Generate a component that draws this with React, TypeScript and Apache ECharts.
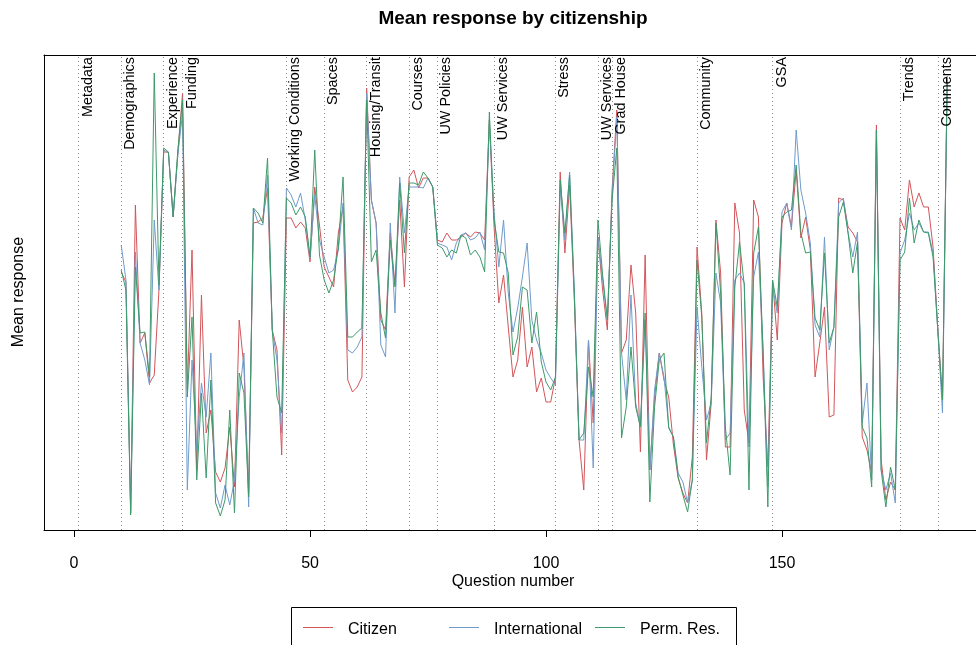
import React, { useEffect, useRef } from "react";
import * as echarts from "echarts";

// Mean response per question, questions 10..185
const firstQuestion = 10;

const citizen = [
  3.28, 3.18, 0.87, 3.95, 2.57, 2.67, 2.17, 2.25, 3.10, 4.48,
  4.48, 3.83, 4.47, 5.07, 2.10, 3.50, 1.30, 3.05, 1.67, 1.90,
  1.28, 1.18, 1.32, 1.73, 1.13, 2.80, 2.33, 1.07, 3.77, 3.78,
  3.82, 4.12, 2.70, 2.50, 1.45, 3.82, 3.82, 3.72, 3.78, 3.72,
  3.38, 4.13, 3.75, 3.33, 3.23, 3.13, 3.67, 3.93, 2.20, 2.08,
  2.13, 2.23, 5.12, 4.00, 3.77, 2.80, 2.70, 3.67, 3.15, 4.00,
  3.13, 4.23, 4.30, 4.12, 4.22, 4.22, 4.13, 3.60, 3.58, 3.67,
  3.60, 3.60, 3.63, 3.67, 3.63, 3.68, 3.67, 3.60, 4.80, 3.73,
  2.97, 3.25, 2.73, 2.23, 2.40, 2.93, 2.33, 2.53, 2.08, 2.22,
  1.98, 1.98, 2.23, 4.28, 3.47, 4.15, 3.00, 1.60, 1.10, 2.60,
  1.77, 3.63, 3.10, 2.70, 4.10, 4.90, 2.47, 2.60, 3.35, 2.87,
  1.48, 3.45, 1.30, 2.03, 2.47, 2.20, 2.03, 1.55, 1.22, 1.07,
  0.97, 1.43, 3.53, 2.87, 1.40, 1.97, 3.80, 3.27, 1.53, 1.53,
  3.97, 3.67, 1.90, 1.57, 4.00, 3.83, 2.23, 1.33, 3.20, 2.60,
  3.77, 3.97, 3.73, 4.30, 3.62, 3.83, 3.50, 2.23, 2.57, 2.93,
  1.83, 1.85, 4.02, 4.00, 3.73, 3.67, 3.58, 1.63, 1.50, 1.27,
  4.75, 1.40, 1.00, 1.18, 1.10, 3.82, 3.70, 4.20, 3.93, 4.07,
  3.93, 3.93, 3.53, 2.73, 2.00, 5.20,
];

const international = [
  3.55, 3.20, 0.90, 3.48, 2.57, 2.40, 2.15, 3.80, 3.10, 4.50,
  4.47, 3.83, 4.45, 4.87, 1.10, 2.40, 1.50, 2.17, 1.83, 2.47,
  1.07, 0.92, 1.15, 0.95, 1.20, 2.03, 2.47, 0.93, 3.92, 3.77,
  3.75, 4.25, 2.70, 2.40, 1.67, 4.12, 4.05, 3.93, 4.07, 3.80,
  3.42, 4.05, 3.60, 3.43, 3.27, 3.30, 3.50, 3.97, 2.50, 2.47,
  2.53, 2.63, 5.07, 4.00, 3.77, 2.55, 2.43, 3.77, 2.87, 4.23,
  3.67, 4.13, 4.13, 4.13, 4.12, 4.22, 4.13, 3.57, 3.55, 3.53,
  3.40, 3.57, 3.65, 3.67, 3.60, 3.62, 3.68, 3.50, 4.77, 3.87,
  3.33, 3.80, 3.07, 2.68, 2.92, 3.23, 3.57, 2.80, 2.60, 2.47,
  2.30, 2.22, 2.15, 4.13, 3.60, 4.28, 3.10, 1.60, 1.60, 2.60,
  1.32, 3.63, 3.20, 2.80, 4.05, 4.83, 2.47, 2.00, 3.05, 1.97,
  1.73, 2.80, 1.30, 2.10, 2.47, 2.23, 1.73, 1.63, 1.27, 1.18,
  0.97, 1.20, 2.93, 2.33, 1.80, 1.97, 3.27, 2.97, 1.60, 1.67,
  3.20, 3.27, 3.17, 1.53, 3.23, 3.48, 2.50, 1.13, 3.13, 2.87,
  3.88, 3.97, 3.70, 4.70, 4.10, 3.87, 3.57, 2.75, 2.63, 3.63,
  2.50, 2.73, 3.97, 4.02, 3.67, 3.43, 3.68, 1.77, 2.17, 1.20,
  4.70, 1.30, 1.10, 1.27, 0.97, 3.47, 3.60, 3.87, 3.70, 3.77,
  3.68, 3.68, 3.47, 2.70, 1.87, 5.22,
];

const permRes = [
  3.30, 3.10, 0.85, 3.33, 2.67, 2.68, 2.23, 5.27, 3.15, 4.52,
  4.48, 3.83, 4.50, 5.00, 2.03, 2.83, 1.20, 2.07, 1.22, 2.20,
  0.97, 0.84, 1.00, 1.90, 0.87, 2.27, 2.07, 1.03, 3.92, 3.87,
  3.77, 4.42, 2.70, 2.03, 1.87, 4.02, 3.97, 3.85, 3.93, 3.83,
  3.43, 4.50, 3.45, 3.20, 3.07, 3.20, 3.53, 4.23, 2.63, 2.63,
  2.68, 2.72, 5.00, 3.38, 3.50, 2.87, 2.62, 3.60, 3.13, 4.17,
  3.47, 4.17, 4.17, 4.15, 4.28, 4.22, 4.13, 3.55, 3.52, 3.43,
  3.50, 3.47, 3.65, 3.62, 3.45, 3.50, 3.43, 3.28, 4.88, 3.80,
  3.48, 3.47, 3.27, 2.45, 2.63, 3.13, 3.10, 2.57, 2.88, 2.38,
  2.18, 2.10, 2.23, 4.20, 3.67, 4.25, 3.05, 1.60, 1.67, 2.33,
  2.03, 3.80, 3.25, 2.80, 4.00, 4.52, 1.62, 1.93, 2.53, 1.93,
  1.73, 2.87, 0.98, 1.93, 2.40, 2.47, 1.72, 1.63, 1.23, 1.05,
  0.88, 1.20, 3.40, 2.83, 1.57, 2.03, 3.77, 3.07, 1.73, 1.25,
  3.13, 3.58, 3.15, 1.10, 3.47, 3.73, 2.47, 0.93, 3.20, 2.93,
  3.83, 3.88, 3.90, 4.35, 3.67, 3.47, 3.48, 2.82, 2.70, 3.47,
  2.57, 2.73, 3.83, 3.98, 3.67, 3.27, 3.58, 1.73, 1.62, 1.13,
  4.70, 1.30, 0.93, 1.33, 1.10, 3.40, 3.48, 4.02, 3.57, 3.80,
  3.68, 3.67, 3.43, 2.70, 2.00, 5.24,
];

const groupNames = ["Citizen", "International", "Perm. Res."];
const groupColors = ["#D2555A", "#6F9BCB", "#3E9A6A"];

const sectionNames = [
  "Metadata", "Demographics", "Experience", "Funding", "Working Conditions",
  "Spaces", "Housing/Transit", "Courses", "UW Policies", "UW Services",
  "Stress", "UW Services", "Grad House", "Community", "GSA", "Trends", "Comments",
];
const sectionStarts = [1, 10, 19, 23, 45, 53, 62, 71, 77, 89, 102, 111, 114, 132, 148, 175, 183];

const xTicks = [0, 50, 100, 150];

const X_MIN = -6.36;
const X_MAX = 191.1;
const Y_MIN = 0.7;
const Y_MAX = 5.45;

const FONT = "'Liberation Sans', Arial, Helvetica, sans-serif";

export default function App() {
  const ref = useRef<HTMLDivElement>(null);

  useEffect(() => {
    if (!ref.current) return;
    const chart = echarts.init(ref.current, null, { renderer: "svg" });
    const groups = [citizen, international, permRes];

    const lineSeries = groups.map((vals, gi) => ({
      name: groupNames[gi],
      type: "line",
      data: vals.map((v, i) => [firstQuestion + i, v]),
      showSymbol: false,
      symbol: "none",
      lineStyle: { color: groupColors[gi], width: 1 },
      itemStyle: { color: groupColors[gi] },
      z: 3 + gi,
    }));

    const sectionSeries = {
      name: "sections",
      type: "line",
      data: [],
      silent: true,
      markLine: {
        silent: true,
        symbol: "none",
        label: { show: false },
        lineStyle: { color: "#8c8c8c", type: [1, 3], width: 1 },
        data: sectionStarts.map((s) => ({ xAxis: s })),
      },
      z: 1,
    };

    // Plot frame: bottom, top and left sides (the right side runs off the page)
    const frameLine = { show: true, onZero: false, lineStyle: { color: "#000", width: 1 } };

    chart.setOption({
      animation: false,
      grid: { left: 44, top: 55, right: 0, bottom: 115 },
      xAxis: [
        {
          type: "value",
          min: X_MIN,
          max: X_MAX,
          axisLine: frameLine,
          splitLine: { show: false },
          axisTick: {
            show: true,
            customValues: xTicks,
            length: 7,
            lineStyle: { color: "#000" },
          },
          axisLabel: {
            customValues: xTicks,
            margin: 24,
            color: "#000",
            fontSize: 16,
            fontFamily: FONT,
          },
        },
        {
          type: "value",
          position: "top",
          min: X_MIN,
          max: X_MAX,
          axisLine: frameLine,
          axisTick: { show: false },
          axisLabel: { show: false },
          splitLine: { show: false },
        },
      ],
      yAxis: {
        type: "value",
        position: "left",
        min: Y_MIN,
        max: Y_MAX,
        axisLine: frameLine,
        axisTick: { show: false },
        axisLabel: { show: false },
        splitLine: { show: false },
      },
      series: [sectionSeries, ...lineSeries],
    });

    // Section labels, axis titles and legend, placed through the chart's scales
    const px = (x: number, y: number) =>
      chart.convertToPixel({ gridIndex: 0 }, [x, y]) as number[];
    const topY = px(0, Y_MAX)[1];
    const graphics: any[] = [];

    sectionStarts.forEach((s, i) => {
      const [sx] = px(s, 0);
      graphics.push({
        type: "text",
        x: sx + 1,
        y: topY + 2,
        rotation: Math.PI / 2,
        style: {
          text: sectionNames[i],
          fill: "#000",
          font: `14.4px ${FONT}`,
          textAlign: "right",
          textVerticalAlign: "top",
        },
        z: 10,
      });
    });

    graphics.push({
      type: "text",
      x: 513,
      y: 17,
      style: {
        text: "Mean response by citizenship",
        fill: "#000",
        font: `bold 19px ${FONT}`,
        textAlign: "center",
        textVerticalAlign: "middle",
      },
    });
    graphics.push({
      type: "text",
      x: 513,
      y: 580,
      style: {
        text: "Question number",
        fill: "#000",
        font: `16px ${FONT}`,
        textAlign: "center",
        textVerticalAlign: "middle",
      },
    });
    graphics.push({
      type: "text",
      x: 17,
      y: 292,
      rotation: Math.PI / 2,
      style: {
        text: "Mean response",
        fill: "#000",
        font: `16px ${FONT}`,
        textAlign: "center",
        textVerticalAlign: "middle",
      },
    });

    // Legend box
    graphics.push({
      type: "rect",
      shape: { x: 291.5, y: 607.5, width: 445, height: 60 },
      style: { fill: "none", stroke: "#000", lineWidth: 1 },
    });
    groupNames.forEach((name, i) => {
      const x0 = 303 + 146 * i;
      graphics.push({
        type: "line",
        shape: { x1: x0, y1: 627.5, x2: x0 + 30, y2: 627.5 },
        style: { stroke: groupColors[i], lineWidth: 1 },
      });
      graphics.push({
        type: "text",
        x: x0 + 45,
        y: 628,
        style: {
          text: name,
          fill: "#000",
          font: `16px ${FONT}`,
          textAlign: "left",
          textVerticalAlign: "middle",
        },
      });
    });

    chart.setOption({ graphic: graphics });

    return () => chart.dispose();
  }, []);

  return (
    <div
      ref={ref}
      style={{ position: "fixed", left: 0, top: 0, width: 976, height: 645 }}
    />
  );
}
